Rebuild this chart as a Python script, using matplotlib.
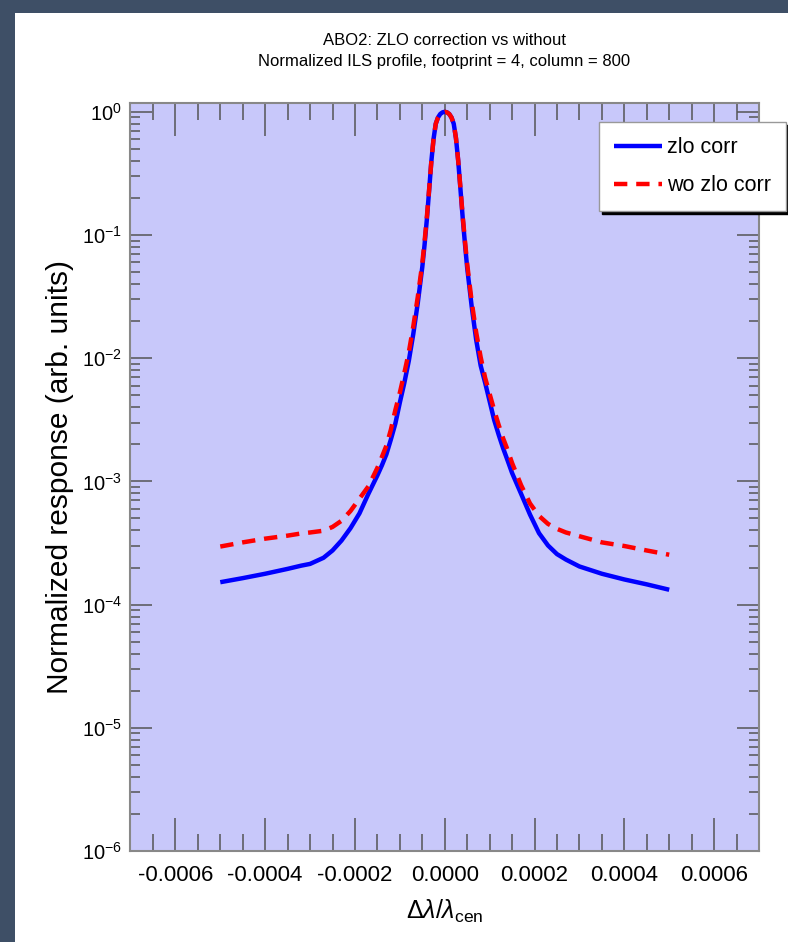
import matplotlib
matplotlib.use("Agg")
import matplotlib.pyplot as plt
from matplotlib.patches import Rectangle
from matplotlib.ticker import MultipleLocator, LogLocator, NullFormatter

# wavelength offset (dlambda / lambda_cen)
dlam = [-5.0e-4, -4.5e-4, -4.0e-4, -3.5e-4, -3.2e-4, -3.0e-4, -2.7e-4, -2.5e-4,
        -2.3e-4, -2.1e-4, -1.9e-4, -1.7e-4, -1.5e-4, -1.4e-4, -1.3e-4, -1.2e-4,
        -1.1e-4, -1.0e-4, -9e-5, -8e-5, -7e-5, -6e-5, -5e-5, -4.5e-5, -4e-5,
        -3.5e-5, -3e-5, -2.5e-5, -2e-5, -1.5e-5, -1e-5, -5e-6, 0.0,
        5e-6, 1e-5, 1.5e-5, 2e-5, 2.5e-5, 3e-5, 3.5e-5, 4e-5, 4.5e-5, 5e-5,
        6e-5, 7e-5, 8e-5, 9e-5, 1.0e-4, 1.1e-4,
        1.2e-4, 1.3e-4, 1.4e-4, 1.5e-4, 1.7e-4, 1.9e-4, 2.1e-4, 2.3e-4, 2.5e-4,
        2.7e-4, 3.0e-4, 3.5e-4, 4.0e-4, 4.5e-4, 5.0e-4]

zlo_corr = [1.52e-4, 1.64e-4, 1.78e-4, 1.95e-4, 2.07e-4, 2.14e-4, 2.40e-4, 2.75e-4,
            3.31e-4, 4.17e-4, 5.50e-4, 7.94e-4, 1.12e-3, 1.35e-3, 1.66e-3, 2.19e-3,
            2.95e-3, 4.37e-3, 6.31e-3, 9.55e-3, 1.58e-2, 2.82e-2, 5.5e-2, 8.3e-2, 0.132,
            0.225, 0.39, 0.60, 0.80, 0.90, 0.96, 0.99, 1.0,
            0.99, 0.96, 0.90, 0.80, 0.61, 0.40, 0.235, 0.138, 8.5e-2, 5.4e-2,
            2.63e-2, 1.41e-2, 8.71e-3, 6.31e-3, 4.47e-3, 3.16e-3,
            2.40e-3, 1.86e-3, 1.48e-3, 1.17e-3, 7.94e-4, 5.37e-4, 3.80e-4, 3.02e-4, 2.57e-4,
            2.32e-4, 2.04e-4, 1.78e-4, 1.60e-4, 1.46e-4, 1.32e-4]

wo_zlo_corr = [2.96e-4, 3.20e-4, 3.43e-4, 3.63e-4, 3.78e-4, 3.85e-4, 3.98e-4, 4.27e-4,
               4.79e-4, 5.75e-4, 7.24e-4, 9.12e-4, 1.29e-3, 1.58e-3, 1.95e-3, 2.63e-3,
               3.80e-3, 5.25e-3, 7.59e-3, 1.12e-2, 1.82e-2, 3.16e-2, 5.9e-2, 8.8e-2, 0.138,
               0.23, 0.39, 0.60, 0.80, 0.90, 0.96, 0.99, 1.0,
               0.99, 0.96, 0.90, 0.80, 0.61, 0.40, 0.24, 0.142, 9.0e-2, 5.8e-2,
               2.88e-2, 1.62e-2, 1.02e-2, 6.92e-3, 5.13e-3, 3.80e-3,
               2.88e-3, 2.24e-3, 1.80e-3, 1.41e-3, 9.33e-4, 6.61e-4, 5.25e-4, 4.52e-4, 4.12e-4,
               3.85e-4, 3.59e-4, 3.20e-4, 2.99e-4, 2.75e-4, 2.54e-4]

xticks = [-0.0006, -0.0004, -0.0002, 0.0, 0.0002, 0.0004, 0.0006]
xtick_labels = ["-0.0006", "-0.0004", "-0.0002", "0.0000", "0.0002", "0.0004", "0.0006"]

plt.rcParams["font.family"] = ["Liberation Sans", "DejaVu Sans"]
plt.rcParams["mathtext.fontset"] = "custom"
plt.rcParams["mathtext.rm"] = "Liberation Sans"
plt.rcParams["mathtext.it"] = "Liberation Sans:italic"
plt.rcParams["axes.unicode_minus"] = False

fig = plt.figure(figsize=(7.88, 9.42), dpi=100)
fig.patch.set_facecolor("#3e4f66")
fig.patches.append(Rectangle((15 / 788, 0), 1, 1 - 13 / 942, transform=fig.transFigure,
                             facecolor="white", edgecolor="none", zorder=-10))

ax = fig.add_axes([0.1656, 0.0966, 0.7976, 0.7941])
ax.set_facecolor("#c8c8fa")

ax.plot(dlam, zlo_corr, color="#0000ff", lw=3.2, label="zlo corr", solid_capstyle="butt")
ax.plot(dlam, wo_zlo_corr, color="#ff0000", lw=3.2, dashes=(3, 2), label="wo zlo corr")

ax.set_yscale("log")
ax.set_xlim(-0.0007, 0.0007)
ax.set_ylim(1e-6, 1.18)

ax.set_xticks(xticks)
ax.set_xticklabels(xtick_labels)
ax.xaxis.set_minor_locator(MultipleLocator(0.00005))
ax.yaxis.set_major_locator(LogLocator(base=10, numticks=10))
ax.yaxis.set_minor_locator(LogLocator(base=10, subs=range(2, 10), numticks=20))
ax.yaxis.set_minor_formatter(NullFormatter())

tick_col = "#555555"
ax.tick_params(axis="x", which="major", direction="in", top=True, length=24, width=1.1,
               color=tick_col, labelsize=16, pad=10)
ax.tick_params(axis="x", which="minor", direction="in", top=True, length=12, width=1.1,
               color=tick_col)
ax.tick_params(axis="y", which="major", direction="in", right=True, length=16, width=1.1,
               color=tick_col, labelsize=14.5, pad=6)
ax.tick_params(axis="y", which="minor", direction="in", right=True, length=7.5, width=1.1,
               color=tick_col)
for s in ax.spines.values():
    s.set_color("#888888")
    s.set_linewidth(1.5)

ax.set_ylabel("Normalized response (arb. units)", fontsize=21.5)
ax.yaxis.set_label_coords(-0.09, 0.5)
ax.set_xlabel(r"$\Delta\lambda/\lambda_{\rm cen}$", fontsize=18)
ax.xaxis.set_label_coords(0.5, -0.062)

fig.text(444.5 / 788, 1 - 51 / 942,
         "ABO2: ZLO correction vs without\nNormalized ILS profile, footprint = 4, column = 800",
         ha="center", va="center", fontsize=12, linespacing=1.5)

leg = ax.legend(loc="upper right", bbox_to_anchor=(786 / 788, 1 - 122 / 942),
                bbox_transform=fig.transFigure, borderaxespad=0, fontsize=15.5,
                fancybox=False, shadow={"color": "black", "alpha": 1.0},
                framealpha=1, edgecolor="#999999", handlelength=2.2,
                handletextpad=0.25, borderpad=0.7, labelspacing=0.8)
leg.get_frame().set_linewidth(1.0)

fig.savefig("out.png", dpi=100, facecolor=fig.get_facecolor())
